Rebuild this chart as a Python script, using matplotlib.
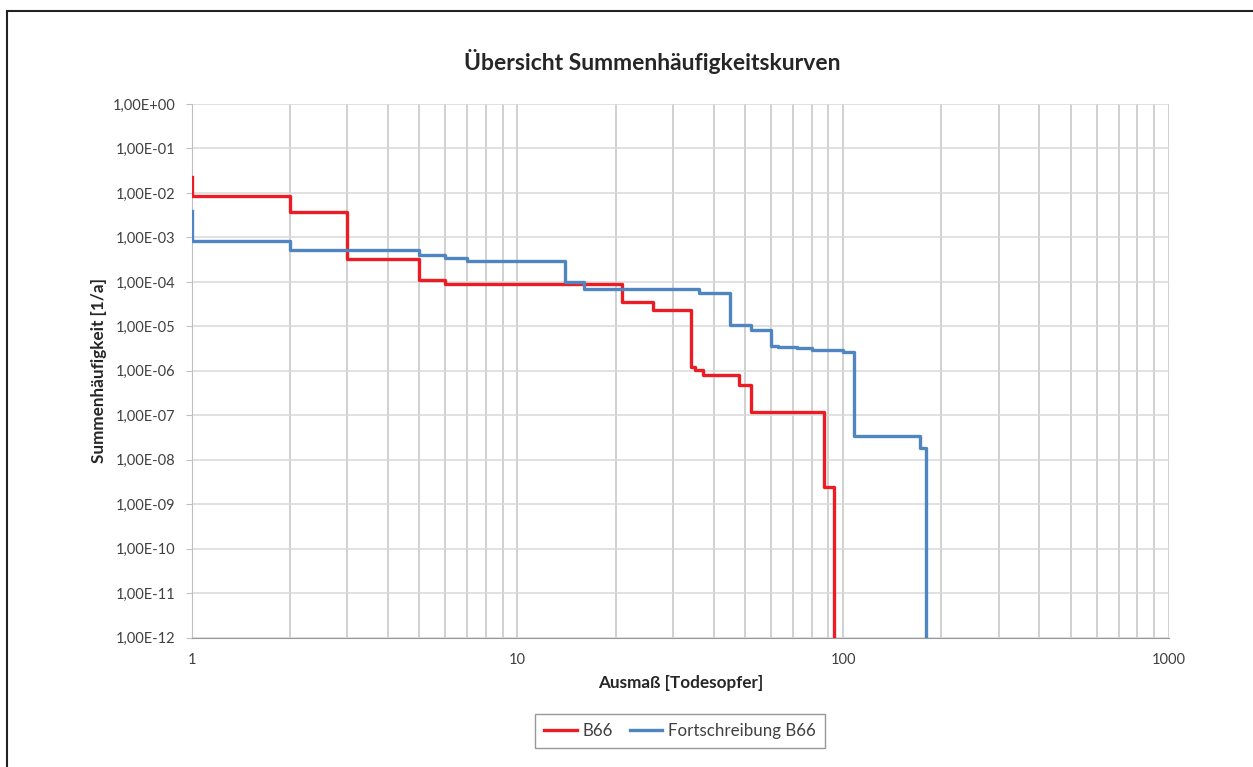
import numpy as np
import matplotlib
matplotlib.use("Agg")
import matplotlib.pyplot as plt
from matplotlib.ticker import FuncFormatter, LogLocator, NullFormatter
from matplotlib.patches import Rectangle

plt.rcParams['font.family'] = ['Lato', 'DejaVu Sans']

# data (steps-post: value holds from x[i] to x[i+1])
b66_x = [1, 1, 2, 3, 5, 6, 21, 26, 34, 35, 37, 48, 52, 87, 94]
b66_y = [2.3e-2, 8.5e-3, 3.7e-3, 3.2e-4, 1.1e-4, 8.9e-5, 3.6e-5, 2.3e-5,
         1.2e-6, 1.07e-6, 8.0e-7, 4.7e-7, 1.17e-7, 2.4e-9, 1e-13]

fort_x = [1, 1, 2, 5, 6, 7, 14, 16, 36, 45, 52, 60, 63, 72, 80, 93, 100,
          108, 172, 180]
fort_y = [4.0e-3, 8.5e-4, 5.1e-4, 4.0e-4, 3.4e-4, 3.0e-4, 1.0e-4, 7.1e-5,
          5.5e-5, 1.05e-5, 8.1e-6, 3.7e-6, 3.4e-6, 3.2e-6, 3.0e-6, 2.9e-6,
          2.7e-6, 3.4e-8, 1.8e-8, 1e-13]

labels = ['B66', 'Fortschreibung B66']
colors = ['#ec1c24', '#4f86c2']

fig = plt.figure(figsize=(12.53, 7.67), dpi=100)
# chart frame (cut off at right/bottom like the reference)
fig.patches.append(Rectangle((7 / 1253, -0.1), 1.2, 1 - 11 / 767 + 0.1,
                             transform=fig.transFigure, fill=False,
                             edgecolor='#222222', lw=1.5))

ax = fig.add_axes([191.7 / 1253, 1 - 637.7 / 767,
                   (1169 - 191.7) / 1253, (637.7 - 104) / 767])

ax.plot(b66_x, b66_y, drawstyle='steps-post', color=colors[0], lw=2.4,
        label=labels[0], zorder=3)
ax.plot(fort_x, fort_y, drawstyle='steps-post', color=colors[1], lw=2.4,
        label=labels[1], zorder=3)

ax.set_xscale('log')
ax.set_yscale('log')
ax.set_xlim(1, 1000)
ax.set_ylim(1e-12, 1)

ax.xaxis.set_major_locator(LogLocator(base=10, numticks=10))
ax.xaxis.set_minor_locator(LogLocator(base=10, subs=np.arange(2, 10), numticks=20))
ax.xaxis.set_minor_formatter(NullFormatter())
ax.xaxis.set_major_formatter(FuncFormatter(lambda v, p: f"{v:g}"))
ax.yaxis.set_major_locator(LogLocator(base=10, numticks=20))
ax.yaxis.set_minor_locator(LogLocator(base=10, subs=[], numticks=20))
ax.yaxis.set_major_formatter(FuncFormatter(lambda v, p: f"{v:.2E}".replace('.', ',')))

ax.grid(True, which='both', axis='x', color='#c4c4c4', lw=1.1)
ax.grid(True, which='major', axis='y', color='#d9d9d9', lw=1.1)
ax.set_axisbelow(True)

for s in ['top', 'right']:
    ax.spines[s].set_visible(False)
ax.spines['left'].set_color('#bfbfbf')
ax.spines['bottom'].set_color('#999999')
ax.tick_params(axis='x', which='both', length=0, pad=11, labelsize=10.5,
               labelcolor='#404040')
ax.tick_params(axis='y', which='major', length=4, color='#bfbfbf', pad=8,
               labelsize=10.5, labelcolor='#404040')

ax.set_xlabel('Ausmaß [Todesopfer]', fontsize=12.3, fontweight='bold',
              color='#262626', labelpad=6)
ax.set_ylabel('Summenhäufigkeit [1/a]', fontsize=12.3, fontweight='bold',
              color='#262626', labelpad=4)

fig.text(652 / 1253, 1 - 62 / 767, 'Übersicht Summenhäufigkeitskurven',
         ha='center', va='center', fontsize=16.5, fontweight='bold',
         color='#262626')

leg = fig.legend(loc='center', bbox_to_anchor=(680 / 1253, 1 - 731 / 767),
                 ncol=2, fontsize=12.2, frameon=True, fancybox=False,
                 handlelength=1.9, handletextpad=0.35, columnspacing=1.0,
                 borderpad=0.55)
leg.get_frame().set_edgecolor('#7f7f7f')
leg.get_frame().set_linewidth(1.0)
for t in leg.get_texts():
    t.set_color('#404040')

fig.savefig('out.png', dpi=100)
